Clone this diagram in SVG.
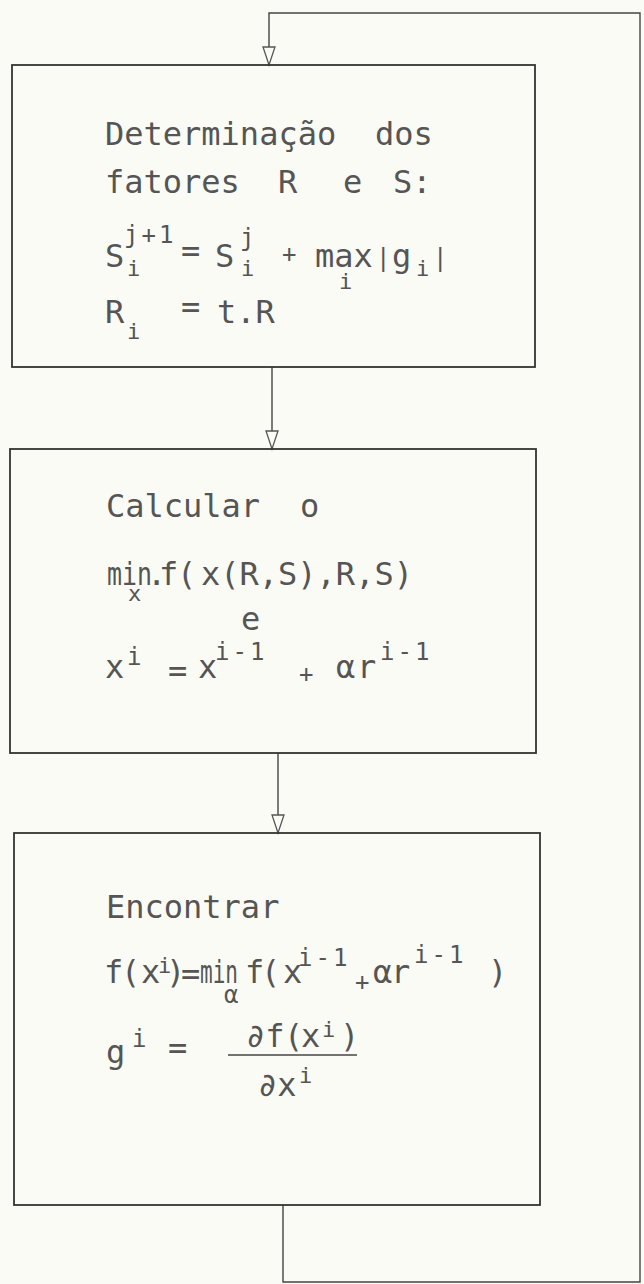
<svg xmlns="http://www.w3.org/2000/svg" width="644" height="1284" viewBox="0 0 644 1284">
<style>
.bg{fill:#fbfbf6}
.box{fill:none;stroke:#333;stroke-width:1.8}
.ln{fill:none;stroke:#444;stroke-width:1.4}
.ah{fill:#fbfbf6;stroke:#555;stroke-width:1.3}
text{font-family:"DejaVu Sans Mono","Liberation Mono",monospace;fill:#555;font-size:32px}
.s{font-size:22px}
.p{font-size:24px;letter-spacing:3px}
.m{font-size:24px}
</style>
<rect class="bg" x="0" y="0" width="644" height="1284"/>
<g id="connectors">
<polyline class="ln" points="283,1205 283,1282 640,1282 640,13 269,13 269,65"/>
<polygon class="ah" points="263,47 275,47 269,65"/>
<line class="ln" x1="272" y1="367" x2="272" y2="449"/>
<polygon class="ah" points="266,431 278,431 272,449"/>
<line class="ln" x1="278" y1="753" x2="278" y2="833"/>
<polygon class="ah" points="272,815 284,815 278,833"/>
</g>
<g id="box1">
<rect class="box" x="12" y="65" width="523" height="302"/>
<text x="105" y="145">Determinação</text>
<text x="375" y="145">dos</text>
<text x="105" y="193">fatores</text>
<text x="278" y="193">R</text>
<text x="343" y="193">e</text>
<text x="393" y="193">S:</text>
<text x="105" y="267">S</text>
<text class="p" x="124" y="243">j+1</text>
<text class="s" x="127" y="276">i</text>
<text x="181" y="262">=</text>
<text x="215" y="267">S</text>
<text class="p" x="240" y="246">j</text>
<text class="s" x="241" y="276">i</text>
<text class="m" x="282" y="262">+</text>
<text x="315" y="267">max</text>
<text class="s" x="339" y="289">i</text>
<text class="m" x="376" y="266">|</text>
<text x="392" y="267">g</text>
<text class="s" x="416" y="276">i</text>
<text class="m" x="433" y="266">|</text>
<text x="105" y="323">R</text>
<text class="s" x="127" y="339">i</text>
<text x="181" y="318">=</text>
<text x="217" y="323">t.R</text>
</g>
<g id="box2">
<rect class="box" x="10" y="449" width="526" height="304"/>
<text x="106" y="517">Calcular</text>
<text x="300" y="517">o</text>
<text x="107" y="585" textLength="45" lengthAdjust="spacingAndGlyphs">min</text>
<text class="s" x="128" y="601">x</text>
<text x="147" y="585">.</text>
<text x="159" y="585">f</text>
<text x="177" y="585">(</text>
<text x="201" y="585">x(R,S),R,S)</text>
<text x="241" y="630">e</text>
<text x="105" y="678">x</text>
<text class="p" x="127" y="665">i</text>
<text x="168" y="682">=</text>
<text x="198" y="678">x</text>
<text class="p" x="215" y="660">i-1</text>
<text class="m" x="299" y="682">+</text>
<text x="336" y="678">α</text>
<text x="357" y="678">r</text>
<text class="p" x="380" y="660">i-1</text>
</g>
<g id="box3">
<rect class="box" x="14" y="833" width="526" height="372"/>
<text x="106" y="918">Encontrar</text>
<text x="104" y="983">f</text>
<text x="121" y="983">(</text>
<text x="141" y="983">x</text>
<text class="s" x="158" y="973">i</text>
<text x="166" y="983">)</text>
<text x="181" y="985">=</text>
<text x="200" y="983" textLength="38" lengthAdjust="spacingAndGlyphs">min</text>
<text class="m" x="224" y="1003">α</text>
<text x="245" y="983">f</text>
<text x="261" y="983">(</text>
<text x="283" y="983">x</text>
<text class="p" x="298" y="966">i-1</text>
<text class="m" x="355" y="990">+</text>
<text x="373" y="983">α</text>
<text x="391" y="983">r</text>
<text class="p" x="414" y="963">i-1</text>
<text x="488" y="983">)</text>
<text x="106" y="1063">g</text>
<text class="p" x="132" y="1047">i</text>
<text x="168" y="1059">=</text>
<text x="246" y="1047">∂f</text>
<text x="284" y="1047">(</text>
<text x="301" y="1047">x</text>
<text class="s" x="322" y="1037">i</text>
<text x="340" y="1047">)</text>
<line class="ln" x1="228" y1="1055" x2="357" y2="1055"/>
<text x="258" y="1096">∂x</text>
<text class="s" x="299" y="1083">i</text>
</g>
</svg>
